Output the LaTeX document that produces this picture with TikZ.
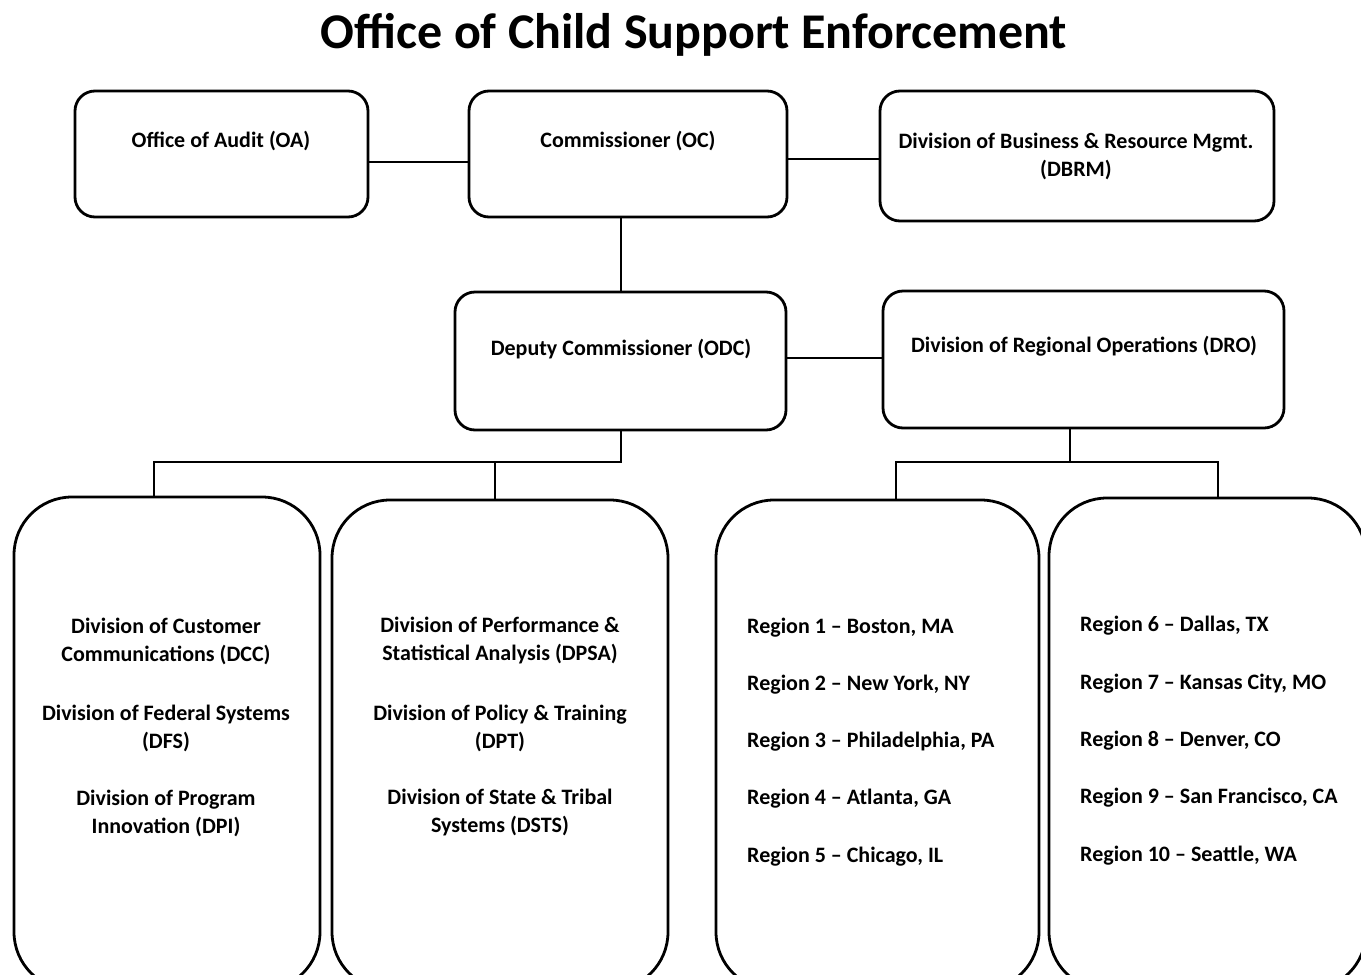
\documentclass[tikz,border=0pt]{standalone}
\usepackage{fontspec}
\setmainfont{Carlito}
\begin{document}
\begin{tikzpicture}[x=1pt,y=-1pt,
  box/.style={draw=black,line width=2.8pt,rounded corners=20pt,fill=white},
  bigbox/.style={draw=black,line width=2.8pt,rounded corners=58pt,fill=white},
  lbl/.style={font=\fontsize{22}{28}\selectfont\bfseries,inner sep=0pt,align=center},
  conn/.style={draw=black,line width=1.8pt}]
\useasboundingbox (0,0) rectangle (1361,975);
\clip (0,0) rectangle (1361,975);
% title
\node[font=\fontsize{50}{56}\selectfont\bfseries,inner sep=0pt] (title) at (694,35) {Office of Child Support Enforcement};
% top boxes
\draw[box] (75,91) rectangle (368,217);
\node[lbl] (oa) at (221,141) {Office of Audit (OA)};
\draw[box] (469,91) rectangle (787,217);
\node[lbl] (oc) at (628,141) {Commissioner (OC)};
\draw[box] (880,91) rectangle (1274,221);
\node[lbl] (dbrm) at (1076,156) {Division of Business \& Resource Mgmt.\\(DBRM)};
\draw[box] (455,292) rectangle (786,430);
\node[lbl] (odc) at (621,349) {Deputy Commissioner (ODC)};
\draw[box] (883,291) rectangle (1284,428);
\node[lbl] (dro) at (1084,346) {Division of Regional Operations (DRO)};
% bottom boxes
\draw[bigbox] (14,497) rectangle (320,990);
\draw[bigbox] (332,500) rectangle (668,990);
\draw[bigbox] (716,500) rectangle (1039,990);
\draw[bigbox] (1049,498) rectangle (1366,990);
\node[lbl] (dcc) at (166,641) {Division of Customer\\Communications (DCC)};
\node[lbl] (dfs) at (166,728) {Division of Federal Systems\\(DFS)};
\node[lbl] (dpi) at (166,813) {Division of Program\\Innovation (DPI)};
\node[lbl] (dpsa) at (500,641) {Division of Performance \&\\Statistical Analysis (DPSA)};
\node[lbl] (dpt) at (500,728) {Division of Policy \& Training\\(DPT)};
\node[lbl] (dsts) at (500,813) {Division of State \& Tribal\\Systems (DSTS)};
\foreach \n/\t/\y in {r1/{Region 1 – Boston, MA}/628, r2/{Region 2 – New York, NY}/685, r3/{Region 3 – Philadelphia, PA}/742, r4/{Region 4 – Atlanta, GA}/799, r5/{Region 5 – Chicago, IL}/857}
  \node[lbl,anchor=west] (\n) at (747,\y) {\t};
\foreach \n/\t/\y in {r6/{Region 6 – Dallas, TX}/626, r7/{Region 7 – Kansas City, MO}/684, r8/{Region 8 – Denver, CO}/741, r9/{Region 9 – San Francisco, CA}/798, r10/{Region 10 – Seattle, WA}/856}
  \node[lbl,anchor=west] (\n) at (1080,\y) {\t};
% connectors
\draw[conn] (368,162) -- (469,162);
\draw[conn] (787,159) -- (880,159);
\draw[conn] (621,217) -- (621,292);
\draw[conn] (786,358) -- (883,358);
\draw[conn] (621,430) -- (621,462) -- (154,462) -- (154,497);
\draw[conn] (495,462) -- (495,500);
\draw[conn] (1070,428) -- (1070,462);
\draw[conn] (896,500) -- (896,462) -- (1218,462) -- (1218,498);
\end{tikzpicture}
\end{document}
